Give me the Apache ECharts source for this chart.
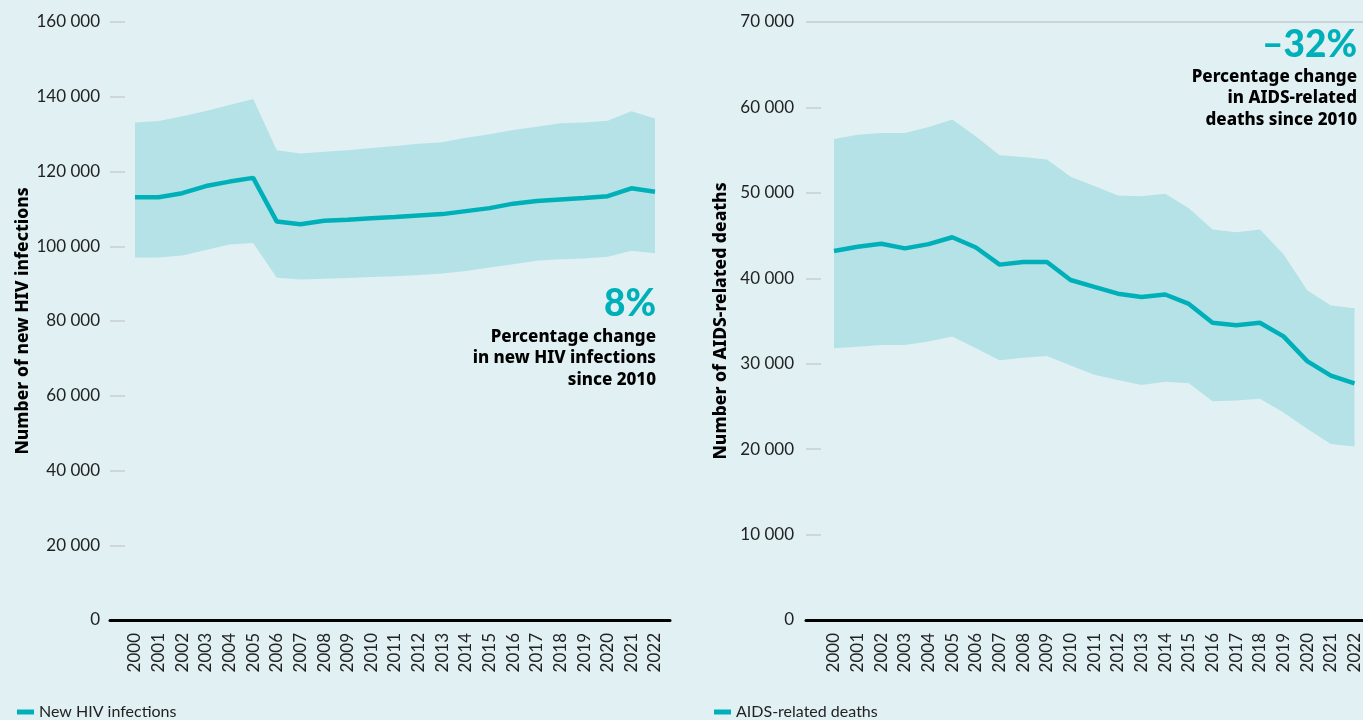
<!DOCTYPE html>
<html>
<head>
<meta charset="utf-8">
<script src="https://cdn.jsdelivr.net/npm/echarts@6/dist/echarts.min.js"></script>
<style>
  html, body { margin: 0; padding: 0; background: #e1f0f3; }
  #chart { width: 1363px; height: 720px; }
</style>
</head>
<body>
<div id="chart"></div>
<script>
// Years on the horizontal axis
const years = ['2000','2001','2002','2003','2004','2005','2006','2007','2008','2009','2010',
  '2011','2012','2013','2014','2015','2016','2017','2018','2019','2020','2021','2022'];

// New HIV infections: estimate and uncertainty bounds
const hivEstimate = [113100,113100,114200,116100,117300,118300,106600,105900,106800,107100,107500,
  107800,108200,108600,109400,110200,111400,112100,112500,112900,113400,115500,114600];
const hivLower = [97000,97000,97500,99000,100500,100900,91600,91100,91300,91500,91800,
  92000,92300,92700,93400,94300,95200,96100,96500,96700,97200,98800,98100];
const hivUpper = [133100,133500,134800,136200,137800,139400,125700,124800,125300,125700,126300,
  126800,127400,127800,129000,130000,131100,132000,132900,133100,133600,136100,134200];

// AIDS-related deaths: estimate and uncertainty bounds
const deathEstimate = [43200,43700,44050,43500,44000,44800,43600,41600,41900,41900,39800,
  39000,38200,37800,38100,37000,34800,34500,34800,33200,30300,28600,27700];
const deathLower = [31800,32000,32200,32200,32600,33200,31800,30400,30700,30900,29800,
  28700,28100,27500,27900,27700,25600,25700,25900,24300,22400,20600,20300];
const deathUpper = [56300,56800,57000,57000,57700,58600,56600,54400,54200,53900,51900,
  50800,49700,49600,49900,48200,45700,45400,45700,42800,38600,36800,36500];

// Axis ranges
const hivAxis = { min: 0, max: 160000, interval: 20000 };
const deathAxis = { min: 0, max: 70000, interval: 10000 };

const TEAL = '#00b0b9';
const BAND = '#b5e2e7';
const FONT = 'Lato, "Noto Sans", sans-serif';
const BOLD_FONT = '"Noto Sans", Lato, sans-serif';

const fmt = v => String(v).replace(/\B(?=(\d{3})+(?!\d))/g, ' ');
const diff = (hi, lo) => hi.map((v, i) => v - lo[i]);

// Each panel uses a "frame" grid (axis line, y ticks, titles) and a "plot" grid (data)
const frames = [
  { left: 110, width: 560 },
  { left: 806, width: 557 }
];
const plots = [
  { left: 135, width: 520 },
  { left: 834, width: 522 }
];

const grids = [];
frames.forEach(f => grids.push({ left: f.left, width: f.width, top: 22, bottom: 100 }));
plots.forEach(p => grids.push({ left: p.left, width: p.width, top: 22, bottom: 100 }));

const xAxes = [];
const yAxes = [];

// frame axes (grid 0 and 1)
[0, 1].forEach(i => {
  xAxes.push({
    type: 'value', gridIndex: i, min: 0, max: 1, z: 5,
    axisLine: { show: true, onZero: false, lineStyle: { color: '#000', width: 3 } },
    axisTick: { show: false }, axisLabel: { show: false }, splitLine: { show: false }
  });
});
const yNames = ['Number of new HIV infections', 'Number of AIDS-related deaths'];
const yRanges = [hivAxis, deathAxis];
const nameGaps = [78, 76];
const labelMargins = [10, 12];
[0, 1].forEach(i => {
  yAxes.push({
    type: 'value', gridIndex: i,
    min: yRanges[i].min, max: yRanges[i].max, interval: yRanges[i].interval,
    name: yNames[i], nameLocation: 'middle', nameRotate: 90, nameGap: nameGaps[i],
    nameTextStyle: { fontFamily: BOLD_FONT, fontWeight: 800, fontSize: 17.5, color: '#000' },
    axisLine: { show: false },
    axisTick: { show: true, inside: true, length: 15, lineStyle: { color: '#c9cfd1', width: 1.5 } },
    axisLabel: { margin: labelMargins[i], fontFamily: FONT, fontSize: 17, color: '#222', formatter: fmt },
    splitLine: { show: false }
  });
});
// plot axes (grid 2 and 3)
[2, 3].forEach((g, k) => {
  xAxes.push({
    type: 'category', gridIndex: g, data: years, boundaryGap: false,
    axisLine: { show: false }, axisTick: { show: false },
    axisLabel: { rotate: 90, margin: 13, interval: 0, fontFamily: FONT, fontSize: 17, color: '#222' },
    splitLine: { show: false }
  });
  yAxes.push({
    type: 'value', gridIndex: g,
    min: yRanges[k].min, max: yRanges[k].max, interval: yRanges[k].interval,
    show: false, splitLine: { show: false }
  });
});

function bandSeries(stack, axisIdx, lo, hi) {
  return [
    {
      type: 'line', stack: stack, xAxisIndex: axisIdx, yAxisIndex: axisIdx,
      data: lo, symbol: 'none', silent: true, lineStyle: { opacity: 0 }, z: 1
    },
    {
      type: 'line', stack: stack, xAxisIndex: axisIdx, yAxisIndex: axisIdx,
      data: diff(hi, lo), symbol: 'none', silent: true,
      lineStyle: { opacity: 0 }, areaStyle: { color: BAND, opacity: 1 }, z: 1
    }
  ];
}

const series = [
  ...bandSeries('hivBand', 2, hivLower, hivUpper),
  {
    name: 'New HIV infections', type: 'line', xAxisIndex: 2, yAxisIndex: 2,
    data: hivEstimate, symbol: 'none', color: TEAL,
    lineStyle: { color: TEAL, width: 4.5 }, z: 3
  },
  ...bandSeries('deathBand', 3, deathLower, deathUpper),
  {
    name: 'AIDS-related deaths', type: 'line', xAxisIndex: 3, yAxisIndex: 3,
    data: deathEstimate, symbol: 'none', color: TEAL,
    lineStyle: { color: TEAL, width: 4.5 }, z: 3
  },
  {
    // top reference line of the deaths panel
    type: 'line', xAxisIndex: 1, yAxisIndex: 1, data: [], silent: true,
    markLine: {
      symbol: 'none', silent: true, label: { show: false },
      lineStyle: { color: '#c8d4d7', width: 2, type: 'solid' },
      data: [{ yAxis: deathAxis.max }]
    }
  }
];

const legendBase = {
  orient: 'horizontal', top: 704, padding: 0, icon: 'rect', itemWidth: 17, itemHeight: 5, itemGap: 10,
  selectedMode: false,
  textStyle: { fontFamily: FONT, fontSize: 16, color: '#222' }
};

const annoText = { fontFamily: BOLD_FONT, fontWeight: 800, fontSize: 17, lineHeight: 21.5, fill: '#000', align: 'right' };
const bigText = { fontFamily: FONT, fontWeight: 900, fontSize: 37, fill: TEAL, align: 'right', verticalAlign: 'middle' };

const option = {
  backgroundColor: '#e1f0f3',
  animation: false,
  grid: grids,
  xAxis: xAxes,
  yAxis: yAxes,
  legend: [
    Object.assign({}, legendBase, { left: 17, data: ['New HIV infections'] }),
    Object.assign({}, legendBase, { left: 714, data: ['AIDS-related deaths'] })
  ],
  graphic: [
    { type: 'text', x: 656, y: 304, style: Object.assign({ text: '8%' }, bigText) },
    { type: 'text', x: 656, y: 326, style: Object.assign({ text: 'Percentage change\nin new HIV infections\nsince 2010' }, annoText) },
    { type: 'text', x: 1357, y: 45, style: Object.assign({ text: '\u201332%' }, bigText) },
    { type: 'text', x: 1357, y: 66, style: Object.assign({ text: 'Percentage change\nin AIDS-related\ndeaths since 2010' }, annoText) }
  ],
  series: series
};

const chart = echarts.init(document.getElementById('chart'), null, { renderer: 'canvas' });
chart.setOption(option);
</script>
</body>
</html>
